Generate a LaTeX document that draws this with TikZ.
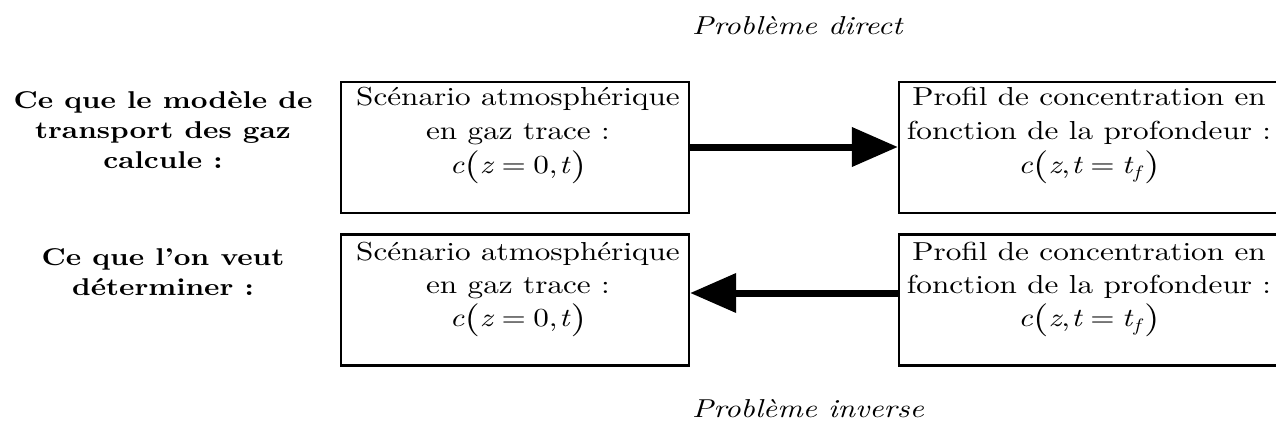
\documentclass[tikz,border=0pt]{standalone}
\usepackage{fontspec}
\setmainfont{lmroman10}[Extension=.otf, UprightFont=*-regular, BoldFont=*-bold, ItalicFont=*-italic, BoldItalicFont=*-bolditalic, FakeStretch=1.2]
\usetikzlibrary{arrows.meta}
\lineskiplimit=-100pt\relax
\lineskip=0pt\relax
\newcommand{\mylp}{\raisebox{-2.5pt}{\fontsize{33}{33}\selectfont(}}
\newcommand{\myrp}{\raisebox{-2.5pt}{\fontsize{33}{33}\selectfont)}}
\newcommand{\myeq}{\hspace{0.28em}=\hspace{0.28em}}
\newcommand{\scen}{\textit{c}\mylp\textit{z}\myeq 0,\kern1.5pt\textit{t}\myrp}
\newcommand{\prof}{\textit{c}\mylp\textit{z},\kern1.5pt\textit{t}\myeq\textit{t}\raisebox{-5pt}{\fontsize{18}{18}\selectfont\itshape f}\kern4pt\myrp}
\begin{document}
\begin{tikzpicture}[x=1pt,y=-1pt,
  lbox/.style={draw, line width=2.2pt, minimum width=348pt, minimum height=131pt, inner sep=0pt},
  rbox/.style={draw, line width=2.2pt, minimum width=391pt, minimum height=131pt, inner sep=0pt},
  btxt/.style={align=center, inner sep=0pt, font=\fontsize{26}{#1}\selectfont},
  side/.style={align=center, inner sep=0pt, font=\fontsize{24.3}{30}\selectfont\bfseries},
  ttl/.style={inner sep=0pt, font=\fontsize{25.9}{28}\selectfont\itshape},
  arr/.style={line width=7pt, -{Triangle[length=46pt, width=38pt]}}]
\useasboundingbox (0,0) rectangle (1276,441);
\clip (0,0) rectangle (1276,441);
\fill[white] (0,0) rectangle (1276,441);
% titles
\node[ttl, anchor=base west] (tdir) at (692,35) {Problème direct};
\node[ttl, anchor=base west] (tinv) at (692,417) {Problème inverse};
% side labels
\node[side, anchor=base] (s1) at (163,168) {Ce que le modèle de\\transport des gaz\\calcule :};
\node[side, anchor=base] (s2) at (163,295) {Ce que l’on veut\\déterminer :};
% boxes
\node[lbox] (b1) at (515,147.5) {};
\node[rbox] (b2) at (1094.5,147.5) {};
\node[lbox] (b3) at (515,300) {};
\node[rbox] (b4) at (1094.5,300) {};
% box texts
\node[btxt=34, anchor=base] (t1) at (518,173) {Scénario atmosphérique\\en gaz trace :\\\scen};
\node[btxt=34, anchor=base] (t2) at (1089,173) {Profil de concentration en\\fonction de la profondeur :\\\prof};
\node[btxt=33, anchor=base] (t3) at (518,326) {Scénario atmosphérique\\en gaz trace :\\\scen};
\node[btxt=33, anchor=base] (t4) at (1089,326) {Profil de concentration en\\fonction de la profondeur :\\\prof};
% arrows
\draw[arr] (b1.east |- 0,147) -- (b2.west |- 0,147);
\draw[arr] (b4.west |- 0,293) -- (b3.east |- 0,293);
\end{tikzpicture}
\end{document}
